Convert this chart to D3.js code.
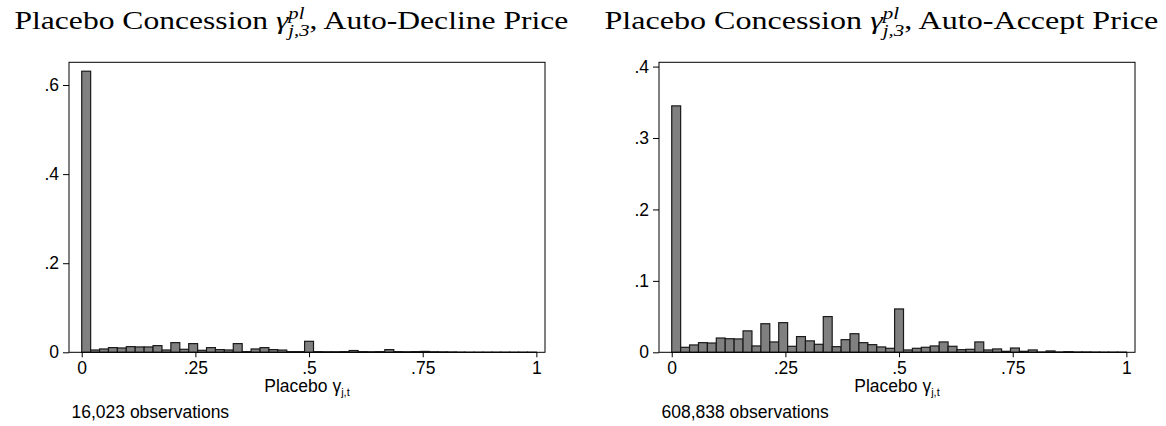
<!DOCTYPE html>
<html>
<head>
<meta charset="utf-8">
<script src="https://cdn.jsdelivr.net/npm/d3@7"></script>
<style>
	html, body {margin:0; padding:0; background:#fff;}
	svg {display:block;}
</style>
</head>
<body>
<svg id="chart" width="1166" height="426"></svg>
<script>
'use strict'

// bins: 51 equal bins over [0,1]
var binCount = 51;

// fraction of observations per bin
var declineFraction = [
	0.631, 0.0052, 0.0075, 0.0105, 0.0097, 0.0127, 0.0120, 0.0120, 0.0150, 0.0052,
	0.0217, 0.0067, 0.0195, 0.0045, 0.0105, 0.0060, 0.0052, 0.0195, 0.0015, 0.0075,
	0.0105, 0.0060, 0.0050, 0.0015, 0.0015, 0.0247, 0.0015, 0.0012, 0.0012, 0.0015,
	0.0040, 0.0015, 0.0012, 0.0015, 0.0060, 0.0015, 0.0012, 0.0015, 0.0020, 0.0012,
	0.0010, 0.0008, 0.0005, 0.0003, 0.0003, 0.0003, 0.0003, 0.0003, 0.0003, 0.0003,
	0.0003
];
var acceptFraction = [
	0.345, 0.0070, 0.0103, 0.0135, 0.0130, 0.0200, 0.0190, 0.0187, 0.0300, 0.0089,
	0.0400, 0.0145, 0.0415, 0.0084, 0.0220, 0.0160, 0.0112, 0.0500, 0.0079, 0.0177,
	0.0260, 0.0135, 0.0107, 0.0075, 0.0056, 0.0607, 0.0033, 0.0056, 0.0070, 0.0089,
	0.0145, 0.0084, 0.0037, 0.0042, 0.0145, 0.0033, 0.0047, 0.0014, 0.0060, 0.0014,
	0.0033, 0.0005, 0.0019, 0.0005, 0.0009, 0.0005, 0.0005, 0.0004, 0.0003, 0.0003,
	0.0003
];

var xTicks = [0, 0.25, 0.5, 0.75, 1];
var xTickLabels = ['0', '.25', '.5', '.75', '1'];
var declineTicks = [0, 0.2, 0.4, 0.6];
var declineTickLabels = ['0', '.2', '.4', '.6'];
var acceptTicks = [0, 0.1, 0.2, 0.3, 0.4];
var acceptTickLabels = ['0', '.1', '.2', '.3', '.4'];

var titleSuffixes = ['Auto-Decline Price', 'Auto-Accept Price'];
var notes = ['16,023 observations', '608,838 observations'];

// layout
var panelW = 583, shiftX = 590;
var frame = {left: 69, right: 545, top: 62.3, bottom: 352.3};
var xDomain = [-0.028, 1.019];
var sans = '"Liberation Sans", Arial, Helvetica, sans-serif';
var serif = '"Liberation Serif", "Times New Roman", serif';

var panels = [
	{values: declineFraction, ticks: declineTicks, labels: declineTickLabels, yMax: 0.651, suffix: titleSuffixes[0], note: notes[0]},
	{values: acceptFraction, ticks: acceptTicks, labels: acceptTickLabels, yMax: 0.406, suffix: titleSuffixes[1], note: notes[1]}
];

var svg = d3.select('#chart');

panels.forEach(function(p, i){
	var g = svg.append('g').attr('transform', 'translate(' + (i * shiftX) + ',0)');
	var x = d3.scaleLinear().domain(xDomain).range([frame.left, frame.right]);
	var y = d3.scaleLinear().domain([0, p.yMax]).range([frame.bottom, frame.top]);

	// bars
	g.append('g').selectAll('rect')
		.data(p.values)
		.join('rect')
		.attr('x', function(d, k){ return x(k / binCount); })
		.attr('width', function(d, k){ return x((k + 1) / binCount) - x(k / binCount); })
		.attr('y', function(d){ return y(d); })
		.attr('height', function(d){ return y(0) - y(d); })
		.attr('fill', '#808080')
		.attr('stroke', '#1a1a1a')
		.attr('stroke-width', 1.2);

	// frame
	g.append('rect')
		.attr('x', frame.left).attr('y', frame.top)
		.attr('width', frame.right - frame.left)
		.attr('height', frame.bottom - frame.top)
		.attr('fill', 'none').attr('stroke', '#000').attr('stroke-width', 1);

	// axes
	var yAxis = d3.axisLeft(y).tickValues(p.ticks)
		.tickFormat(function(d, k){ return p.labels[k]; })
		.tickSize(6).tickPadding(4);
	var gy = g.append('g').attr('transform', 'translate(' + frame.left + ',0)').call(yAxis);

	var xAxis = d3.axisBottom(x).tickValues(xTicks)
		.tickFormat(function(d, k){ return xTickLabels[k]; })
		.tickSize(5).tickPadding(4);
	var gx = g.append('g').attr('transform', 'translate(0,' + frame.bottom + ')').call(xAxis);

	[gx, gy].forEach(function(a){
		a.select('.domain').remove();
		a.selectAll('line').attr('stroke', '#000');
		a.selectAll('text').attr('fill', '#000')
			.style('font-family', sans).style('font-size', '17.5px');
	});

	// x axis title
	var xt = g.append('text')
		.attr('x', (frame.left + frame.right) / 2)
		.attr('y', 392)
		.attr('text-anchor', 'middle')
		.style('font-family', sans).style('font-size', '17.5px');
	xt.append('tspan').text('Placebo \u03b3');
	xt.append('tspan').attr('dy', 4).style('font-size', '11px').text('j,t');

	// note
	g.append('text')
		.attr('x', frame.left + 2.5)
		.attr('y', 418)
		.style('font-family', sans).style('font-size', '17.5px')
		.text(p.note);

	// title with gamma^{pl}_{j,3}
	var tg = g.append('g');
	var t = tg.append('text')
		.attr('x', 0).attr('y', 0)
		.style('font-family', serif).style('font-size', '26px');
	t.append('tspan').text('Placebo Concession ');
	t.append('tspan').style('font-style', 'italic').text('\u03b3');
	var sup = t.append('tspan').style('font-style', 'italic').style('font-size', '17px')
		.attr('dy', -10).text('pl');
	var supW = sup.node().getComputedTextLength();
	var sub = t.append('tspan').style('font-style', 'italic').style('font-size', '17px')
		.attr('dx', -supW).attr('dy', 17).text('j,3');
	var subW = sub.node().getComputedTextLength();
	t.append('tspan').attr('dy', -7).attr('dx', Math.max(0, supW - subW))
		.text(', ' + p.suffix);

	var bb = t.node().getBBox();
	var targetW = 554;
	var sx = targetW / bb.width;
	tg.attr('transform', 'translate(' + (panelW / 2 - targetW / 2) + ',29) scale(' + sx + ',1) translate(' + (-bb.x) + ',0)');
});
</script>
</body>
</html>
